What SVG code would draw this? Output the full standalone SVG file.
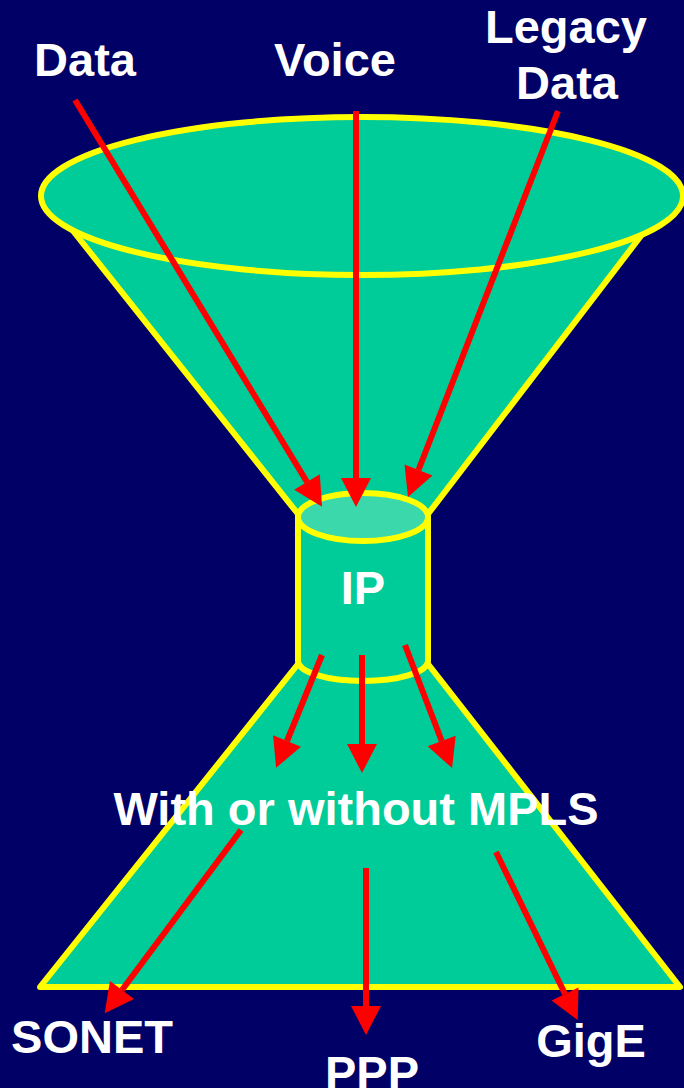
<svg xmlns="http://www.w3.org/2000/svg" width="684" height="1088" viewBox="0 0 684 1088">
<style>
.shape{fill:#00CC99;stroke:#FFFF00;stroke-width:6;stroke-linejoin:round}
.arr{stroke:#FF0000;stroke-width:6;fill:none;marker-end:url(#ah)}
.lbl{font-family:"Liberation Sans",Arial,sans-serif;font-weight:bold;font-size:47px;fill:#FFFFFF;text-anchor:middle}
</style>
<defs>
<marker id="ah" markerUnits="userSpaceOnUse" markerWidth="30" markerHeight="30" refX="0" refY="15" orient="auto" overflow="visible">
<path d="M0,0 L29,15 L0,30 Z" fill="#FF0000"/>
</marker>
</defs>
<rect width="684" height="1088" fill="#000066"/>
<g id="funnel">
<polygon class="shape" points="66,222 647,228 428,514 298,514"/>
<ellipse class="shape" cx="362" cy="196" rx="321" ry="79"/>
</g>
<g id="base">
<polygon class="shape" points="298,664 428,664 680,987 40,987"/>
</g>
<g id="ip">
<path class="shape" d="M298,517 L298,661 A65,20 0 0 0 428,661 L428,517 Z"/>
<ellipse cx="363" cy="517" rx="65" ry="24" fill="#3AD8AB" stroke="#FFFF00" stroke-width="6"/>
<text class="lbl" x="363" y="604">IP</text>
</g>
<g id="labels">
<text class="lbl" x="85" y="76">Data</text>
<text class="lbl" x="335" y="76">Voice</text>
<text class="lbl" x="566" y="43">Legacy</text>
<text class="lbl" x="567" y="99">Data</text>
<text class="lbl" x="356" y="825">With or without MPLS</text>
<text class="lbl" x="92" y="1053">SONET</text>
<text class="lbl" x="372" y="1089">PPP</text>
<text class="lbl" x="591" y="1057">GigE</text>
</g>
<g id="connectors">
<line class="arr" x1="75" y1="100" x2="307" y2="482"/>
<line class="arr" x1="356" y1="111" x2="356" y2="478"/>
<line class="arr" x1="558" y1="111" x2="418.5" y2="470"/>
<line class="arr" x1="322" y1="655" x2="287" y2="741"/>
<line class="arr" x1="362" y1="655" x2="362" y2="744"/>
<line class="arr" x1="405" y1="645" x2="441.7" y2="741"/>
<line class="arr" x1="241" y1="830" x2="122" y2="990"/>
<line class="arr" x1="366" y1="868" x2="366" y2="1006"/>
<line class="arr" x1="496" y1="852" x2="565" y2="994"/>
</g>
</svg>
